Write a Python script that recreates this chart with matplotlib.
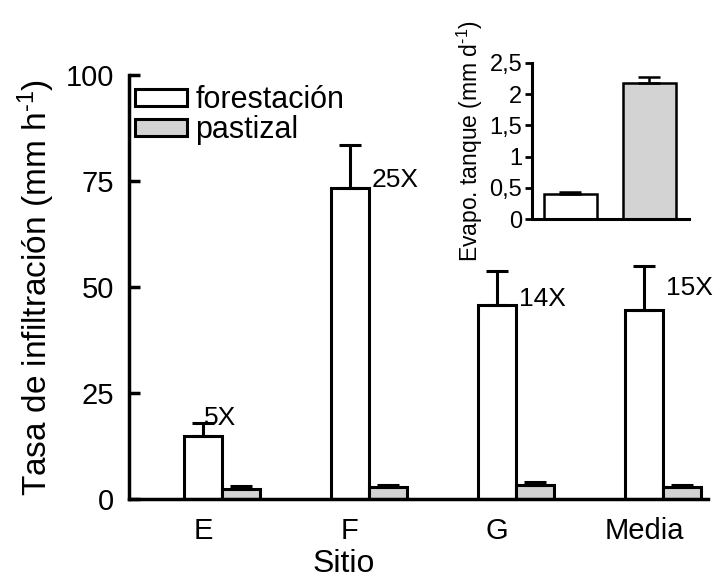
import numpy as np
import matplotlib.pyplot as plt

plt.rcParams['font.family'] = ['Liberation Sans', 'DejaVu Sans']
plt.rcParams['mathtext.fontset'] = 'custom'
plt.rcParams['mathtext.rm'] = 'Liberation Sans'
plt.rcParams['mathtext.it'] = 'Liberation Sans:italic'

sitios = ["E", "F", "G", "Media"]
forestacion = [14.9, 73.3, 45.7, 44.5]
forestacion_err = [3.0, 10.2, 8.1, 10.5]
pastizal = [2.4, 2.8, 3.3, 2.8]
pastizal_err = [0.7, 0.4, 0.7, 0.5]
veces = ["5X", "25X", "14X", "15X"]
veces_y = [17.5, 73.6, 45.5, 48.1]

evapo = [0.40, 2.18]
evapo_err = [0.03, 0.09]

fig = plt.figure(figsize=(7.13, 5.8), dpi=100)
ax = fig.add_axes([0.1809, 0.1397, 0.8121, 0.731])

x = np.arange(len(sitios))
w = 0.26
lw = 2.2
ekw = dict(elinewidth=lw, capthick=lw, ecolor="black")
zeros = np.zeros(len(sitios))
ax.bar(x, forestacion, w, color="white", edgecolor="black", linewidth=lw,
       yerr=[zeros, forestacion_err], capsize=8, error_kw=ekw, label="forestación")
ax.bar(x + w, pastizal, w, color="#d3d3d3", edgecolor="black", linewidth=lw,
       yerr=[zeros, pastizal_err], capsize=8, error_kw=ekw, label="pastizal")

# labels just right of each forestación bar
offs = [0.01, 0.15, 0.15, 0.15]
for i in range(len(sitios)):
    ax.text(x[i] + offs[i], veces_y[i], veces[i], fontsize=19, ha="left", va="baseline")

ax.set_xlim(-0.503, 3.435)
ax.set_ylim(0, 100)
ax.set_yticks([0, 25, 50, 75, 100])
ax.set_xticks(x)
ax.set_xticklabels(sitios)
ax.tick_params(axis="y", direction="in", length=8, width=2.5, pad=11, labelsize=21)
ax.tick_params(axis="x", length=0, pad=13, labelsize=21)
for s in ["top", "right"]:
    ax.spines[s].set_visible(False)
for s in ["left", "bottom"]:
    ax.spines[s].set_linewidth(2.5)
ax.set_ylabel(r"Tasa de infiltración (mm h$^{\text{-}1}$)", fontsize=24, labelpad=6)
ax.set_xlabel("Sitio", fontsize=23)
ax.xaxis.set_label_coords(0.37, -0.118)

ax.legend(loc="upper left", bbox_to_anchor=(0.0, 0.99), frameon=False, fontsize=22,
          handlelength=1.7, handleheight=0.5, handletextpad=0.28, labelspacing=0.0,
          borderaxespad=0.2, borderpad=0.0)

ins = fig.add_axes([0.7461, 0.6224, 0.2202, 0.269])
ins.bar([0, 1], evapo, 0.67, color=["white", "#d3d3d3"], edgecolor="black", linewidth=1.8,
        yerr=[[0, 0], evapo_err], capsize=8, error_kw=dict(elinewidth=1.8, capthick=1.8))
ins.set_xlim(-0.487, 1.5)
ins.set_ylim(0, 2.5)
ins.set_yticks([0, 0.5, 1, 1.5, 2, 2.5])
ins.set_yticklabels(["0", "0,5", "1", "1,5", "2", "2,5"])
ins.set_xticks([])
ins.tick_params(axis="y", direction="out", length=5, width=2, pad=2, labelsize=17)
for s in ["top", "right"]:
    ins.spines[s].set_visible(False)
for s in ["left", "bottom"]:
    ins.spines[s].set_linewidth(2.2)
ins.set_ylabel(r"Evapo. tanque (mm d$^{\text{-}1}$)", fontsize=16.5, labelpad=3)

fig.savefig("out.png", dpi=100)
